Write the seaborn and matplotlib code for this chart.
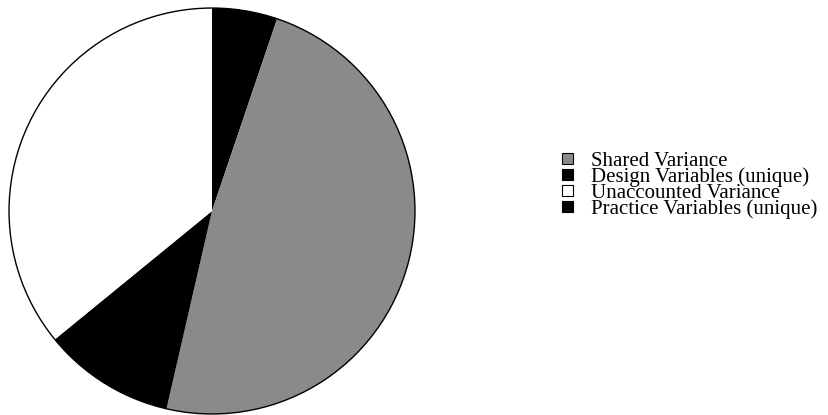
import matplotlib
matplotlib.use("Agg")
import matplotlib.pyplot as plt
from matplotlib.patches import Rectangle
import seaborn as sns

# Share of variance (percent), in drawing order clockwise from 12 o'clock
components = ["Design Variables (unique)", "Shared Variance",
              "Practice Variables (unique)", "Unaccounted Variance"]
shares = [5.2, 48.4, 10.5, 35.9]
fills = ["#000000", "#8a8a8a", "#000000", "#ffffff"]

# Order used in the key
legend_order = ["Shared Variance", "Design Variables (unique)",
                "Unaccounted Variance", "Practice Variables (unique)"]

sns.set_theme(style="white")
plt.rcParams["font.family"] = ["Liberation Serif", "DejaVu Serif"]

W, H = 829, 415
fig = plt.figure(figsize=(W / 100, H / 100), dpi=100)
fig.patch.set_facecolor("white")

cx, cy, r = 212, 204, 205
ax = fig.add_axes([(cx - r) / W, (cy - r) / H, 2 * r / W, 2 * r / H])
wedges, _ = ax.pie(shares, colors=fills, startangle=90, counterclock=False,
                   radius=1.0, wedgeprops=dict(linewidth=0))
# outer rim
rim = plt.Circle((0, 0), 1.0, fill=False, edgecolor="black", linewidth=1.0)
ax.add_patch(rim)
ax.set_xlim(-1.01, 1.01)
ax.set_ylim(-1.01, 1.01)
ax.set_aspect("equal")
ax.axis("off")

# Key: small framed squares, labels set as one tightly spaced block
color_of = dict(zip(components, fills))
box = 11
x_box, x_text = 562, 591
baseline0, pitch = 164, 16
for i, name in enumerate(legend_order):
    base = baseline0 + i * pitch
    fig.patches.append(Rectangle((x_box / W, 1 - base / H), box / W, box / H,
                                 facecolor=color_of[name], edgecolor="black",
                                 linewidth=0.8, transform=fig.transFigure,
                                 figure=fig))
fig.text(x_text / W, 1 - (baseline0 - 12) / H, "\n".join(legend_order),
         fontsize=15, linespacing=0.77, ha="left", va="top", color="black")

fig.savefig("out.png", dpi=100)
